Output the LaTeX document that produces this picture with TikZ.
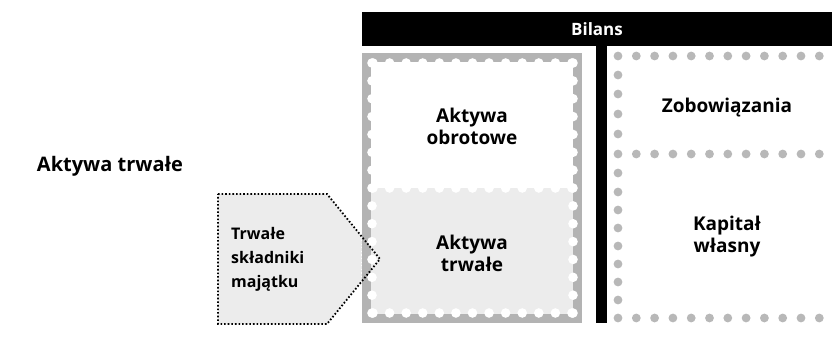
\documentclass[tikz,border=0pt]{standalone}
\usepackage{fontspec}
\setmainfont{Open Sans}
\definecolor{framegray}{HTML}{B3B3B3}
\definecolor{dotgray}{HTML}{B8B8B8}
\definecolor{paper}{HTML}{ECECEC}
\begin{document}
\begin{tikzpicture}[x=1pt,y=-1pt,
  label/.style={font=\bfseries\fontsize{19}{22}\selectfont, align=center, inner sep=0pt},
  perforation/.style={white, line width=1.2pt, dash pattern=on 1.2pt off 2.4pt},
  hole/.style={fill=white},
  pip/.style={fill=dotgray}]
\useasboundingbox (0,0) rectangle (832,347);

% heading bar
\node[fill=black, minimum width=470pt, minimum height=34pt, inner sep=0pt,
      text=white, font=\bfseries\fontsize{17}{20}\selectfont] (bilans) at (597,29) {Bilans};
\draw[perforation] (bilans.north west) -- (bilans.south west) -- (bilans.south east);

% arrow-shaped tag, fill under the stamp
\coordinate (p1) at (218,194);
\coordinate (p2) at (327,194);
\coordinate (tip) at (380,259);
\coordinate (p4) at (327,324);
\coordinate (p5) at (218,324);
\fill[paper] (p1) -- (p2) -- (tip) -- (p4) -- (p5) -- cycle;

% stamp: gray frame with perforated outline and punched holes
\node[fill=framegray, minimum width=220pt, minimum height=270pt, inner sep=0pt] (stamp) at (472,188) {};
\fill[white] (371,62) rectangle (573,188);
\fill[paper] (371,188) rectangle (573,314);
\draw[perforation] (stamp.north west) rectangle (stamp.south east);
\foreach \i in {0,...,12} {
  \fill[hole] ({373+\i*16.58},63) circle (4.8pt);
  \fill[hole] ({373+\i*16.58},313) circle (4.8pt);
  \fill[hole] ({373+\i*16.58},188) circle (4.8pt);
}
\foreach \j in {0,...,14} {
  \fill[hole] (372,{63+\j*17.86}) circle (4.8pt);
  \fill[hole] (573,{63+\j*17.86}) circle (4.8pt);
}

% tag outline on top
\draw[line width=1.8pt, dash pattern=on 1.6pt off 2pt] (p1) -- (p2) -- (tip) -- (p4) -- (p5) -- cycle;

% divider between assets and liabilities
\node[fill=black, minimum width=11pt, minimum height=277pt, inner sep=0pt] (divider) at (601.5,184.5) {};

% dotted grid on the liabilities side
\foreach \i in {0,...,11} {
  \fill[pip] ({618+\i*18.3},56) circle (4.4pt);
  \fill[pip] ({618+\i*18.3},154) circle (4.4pt);
  \fill[pip] ({618+\i*18.3},318) circle (4.4pt);
}
\foreach \y in {75,94,114,134,173,192,210,228,246,264,282,300} {
  \fill[pip] (618,\y) circle (4.4pt);
}

% labels
\node[font=\bfseries\fontsize{20}{24}\selectfont, inner sep=0pt] (title) at (110,166) {Aktywa trwałe};
\node[label] (obrotowe) at (472,126) {Aktywa\\obrotowe};
\node[label] (trwale) at (472,253) {Aktywa\\trwałe};
\node[label] (zobow) at (727,108) {Zobowiązania};
\node[label] (kapital) at (727,237) {Kapitał\\własny};
\node[font=\bfseries\fontsize{16}{24}\selectfont, align=left, inner sep=0pt, anchor=west] (tag) at (231,259) {Trwałe\\składniki\\majątku};
\end{tikzpicture}
\end{document}
